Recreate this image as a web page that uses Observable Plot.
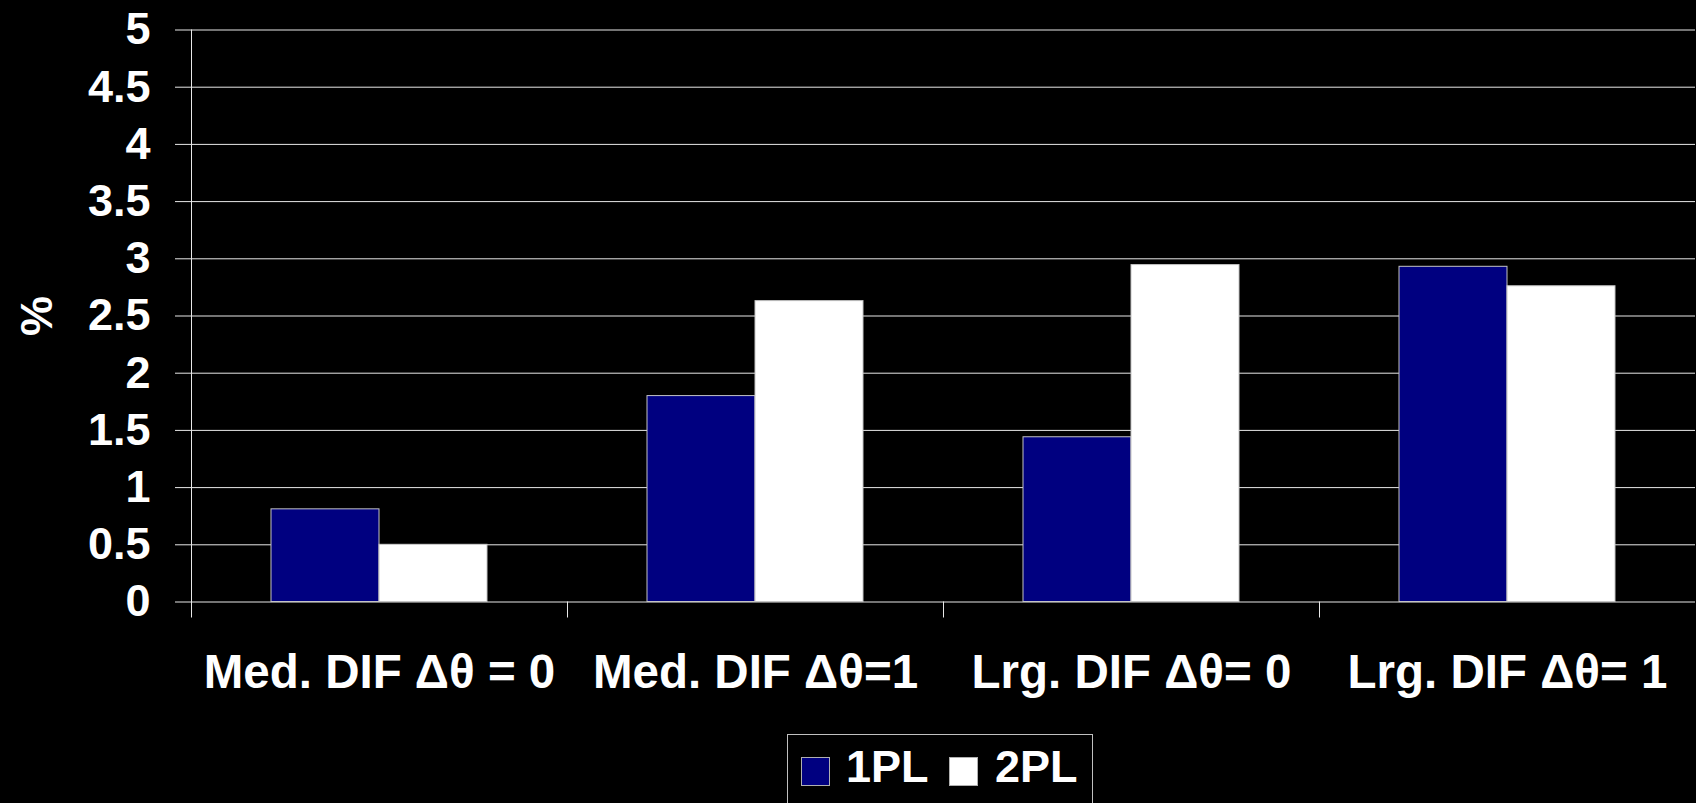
<!DOCTYPE html>
<html>
<head>
<meta charset="utf-8">
<script src="https://cdn.jsdelivr.net/npm/d3@7"></script>
<script src="https://cdn.jsdelivr.net/npm/@observablehq/plot@0.6"></script>
<style>
  html, body { margin: 0; padding: 0; background: #000; }
  #chart { position: relative; width: 1696px; height: 803px; overflow: hidden; background: #000; }
  #chart svg { display: block; }
  .legend {
    position: absolute; left: 787px; top: 734px; width: 306px; height: 100px;
    border: 1px solid #c0c0c0; box-sizing: border-box;
    font: bold 45px "Liberation Sans", Arial, sans-serif; color: #fff;
  }
  .legend .sw { position: absolute; width: 29px; height: 29px; top: 22px; box-sizing: border-box; border: 1px solid #b0b0b0; }
  .legend .lb { position: absolute; top: 9px; line-height: 45px; white-space: nowrap; }
</style>
</head>
<body>
<div id="chart"></div>
<script>
// Percentages per condition, for the two IRT models
const categories = ["Med. DIF Δθ = 0", "Med. DIF Δθ=1", "Lrg. DIF Δθ= 0", "Lrg. DIF Δθ= 1"];
const seriesNames = ["1PL", "2PL"];
const seriesColors = ["#000080", "#ffffff"];
const onePL = [0.81, 1.80, 1.44, 2.93];
const twoPL = [0.50, 2.63, 2.945, 2.76];
const yTicks = [0, 0.5, 1, 1.5, 2, 2.5, 3, 3.5, 4, 4.5, 5];
const yLabel = "%";

const data = categories.flatMap((c, i) => [
  {category: c, series: seriesNames[0], value: onePL[i]},
  {category: c, series: seriesNames[1], value: twoPL[i]}
]);

const W = 1696, H = 720, MT = 29.5, MB = 118.5, ML = 189, MR = 0;
const lineColor = "#e8e8e8";
const font = "'Liberation Sans', Arial, sans-serif";

const plot = Plot.plot({
  width: W, height: H,
  marginTop: MT, marginBottom: MB, marginLeft: ML, marginRight: MR,
  style: {background: "#000", color: "#fff", fontFamily: font, fontWeight: "bold", fontSize: "45px"},
  fx: {domain: categories, padding: 0, label: null},
  x: {domain: seriesNames, paddingInner: 0, paddingOuter: 0.733, axis: null},
  y: {domain: [0, 5], label: null},
  color: {domain: seriesNames, range: seriesColors},
  marks: [
    Plot.gridY(yTicks, {stroke: lineColor, strokeOpacity: 1, strokeWidth: 1}),
    Plot.barY(data, {fx: "category", x: "series", y: "value", fill: "series", stroke: "#c4c4c4", strokeWidth: 1}),
    Plot.axisY(yTicks, {
      tickSize: 16, tickPadding: 25, tickFormat: d => String(d),
      stroke: lineColor, strokeOpacity: 1, fontSize: 45,
      label: yLabel, labelAnchor: "center", labelArrow: "none", labelOffset: 171
    }),
    Plot.axisFx({anchor: "bottom", tickSize: 0, tickPadding: 52, label: null, fontSize: 47.5}),
    // value axis line
    Plot.frame({anchor: "left", facetAnchor: "left", stroke: lineColor, strokeOpacity: 1}),
    // short ticks between categories
    Plot.frame({anchor: "left", insetTop: H - MT - MB, insetBottom: -15, stroke: lineColor, strokeOpacity: 1})
  ]
});

const chart = document.getElementById("chart");
chart.appendChild(plot);

// Legend below the chart
const legend = document.createElement("div");
legend.className = "legend";
const swLeft = [13, 161], lbLeft = [58, 207];
seriesNames.forEach((name, i) => {
  const sw = document.createElement("div");
  sw.className = "sw";
  sw.style.left = swLeft[i] + "px";
  sw.style.background = seriesColors[i];
  legend.appendChild(sw);
  const lb = document.createElement("div");
  lb.className = "lb";
  lb.style.left = lbLeft[i] + "px";
  lb.textContent = name;
  legend.appendChild(lb);
});
chart.appendChild(legend);
</script>
</body>
</html>
